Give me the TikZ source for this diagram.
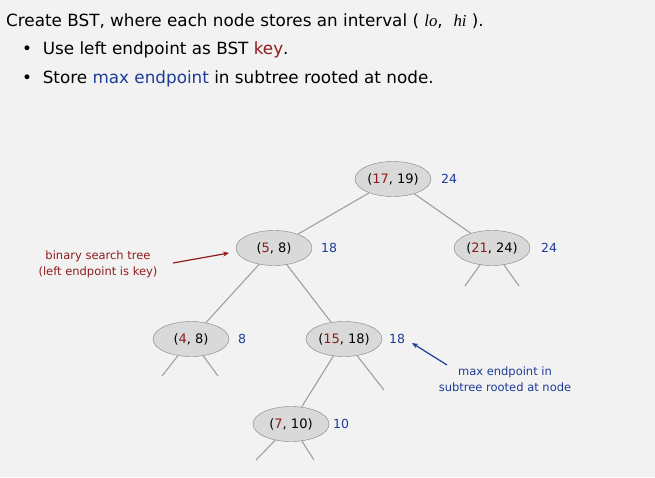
\documentclass[tikz,border=0pt]{standalone}
\usepackage{fontspec}
\setmainfont{DejaVu Sans}
\newfontfamily\serifit{Liberation Serif}
\usetikzlibrary{shapes.geometric,arrows.meta}
\definecolor{bg}{HTML}{F2F2F2}
\definecolor{keyred}{HTML}{8E1B1B}
\definecolor{maxblue}{HTML}{1E3C98}
\definecolor{nodefill}{HTML}{D9D9D9}
\definecolor{nodeline}{HTML}{808080}
\definecolor{edgegray}{HTML}{A0A0A0}
\tikzset{
  tnode/.style={ellipse, draw=nodeline, fill=nodefill, minimum width=76pt, minimum height=35pt, inner sep=0pt, font=\fontsize{13}{15}\selectfont},
  mval/.style={text=maxblue, font=\fontsize{12.5}{15}\selectfont},
  edge/.style={draw=edgegray, line width=1.1pt},
  note/.style={align=center, font=\fontsize{11.5}{16}\selectfont},
  head/.style={anchor=west, font=\fontsize{16.8}{20}\selectfont, inner sep=0pt},
}
\newcommand{\kk}[1]{\textcolor{keyred}{#1}}
\begin{document}
\begin{tikzpicture}[x=1pt,y=-1pt]
\fill[bg] (0,0) rectangle (655,477);
\useasboundingbox (0,0) rectangle (655,477);
% heading
\node[head] (h1) at (6,21) {Create BST, where each node stores an interval ( {\serifit\itshape lo},~ {\serifit\itshape hi} ).};
\node[head] (h2) at (22,50) {•~~Use left endpoint as BST \textcolor{keyred}{key}.};
\node[head] (h3) at (22,79) {•~~Store \textcolor{maxblue}{max endpoint} in subtree rooted at node.};
% nodes
\node[tnode] (n17) at (393,179) {(\kk{17}, 19)};
\node[tnode] (n5) at (274,248) {(\kk{5}, 8)};
\node[tnode] (n21) at (492,248) {(\kk{21}, 24)};
\node[tnode] (n4) at (191,339) {(\kk{4}, 8)};
\node[tnode] (n15) at (344,339) {(\kk{15}, 18)};
\node[tnode] (n7) at (291,424) {(\kk{7}, 10)};
% max values
\node[mval] (m17) at (449,179) {24};
\node[mval] (m5) at (329,248) {18};
\node[mval] (m21) at (549,248) {24};
\node[mval] (m4) at (242,339) {8};
\node[mval] (m15) at (397,339) {18};
\node[mval] (m7) at (341,424) {10};
% edges
\draw[edge] (n17) -- (n5);
\draw[edge] (n17) -- (n21);
\draw[edge] (n5) -- (n4);
\draw[edge] (n5) -- (n15);
\draw[edge] (n15) -- (n7);
% stubs
\coordinate (s21a) at (465,286);
\coordinate (s21b) at (519,286);
\coordinate (s4a) at (162,376);
\coordinate (s4b) at (218,376);
\coordinate (s15b) at (384,390);
\coordinate (s7a) at (256,460);
\coordinate (s7b) at (314,460);
\draw[edge] (n21) -- (s21a);
\draw[edge] (n21) -- (s21b);
\draw[edge] (n4) -- (s4a);
\draw[edge] (n4) -- (s4b);
\draw[edge] (n15) -- (s15b);
\draw[edge] (n7) -- (s7a);
\draw[edge] (n7) -- (s7b);
% annotations
\node[note, text=keyred] (bst) at (98,264) {binary search tree\\(left endpoint is key)};
\coordinate (bsttail) at (173,263);
\coordinate (bsttip) at (229,253);
\draw[keyred, line width=1.2pt, -{Stealth[length=6pt,width=5pt]}] (bsttail) -- (bsttip);
\node[note, text=maxblue] (mx) at (505,379) {max endpoint in\\subtree rooted at node};
\coordinate (mxtail) at (447,365);
\coordinate (mxtip) at (412,343);
\draw[maxblue, line width=1.2pt, -{Stealth[length=6pt,width=5pt]}] (mxtail) -- (mxtip);
\end{tikzpicture}
\end{document}
